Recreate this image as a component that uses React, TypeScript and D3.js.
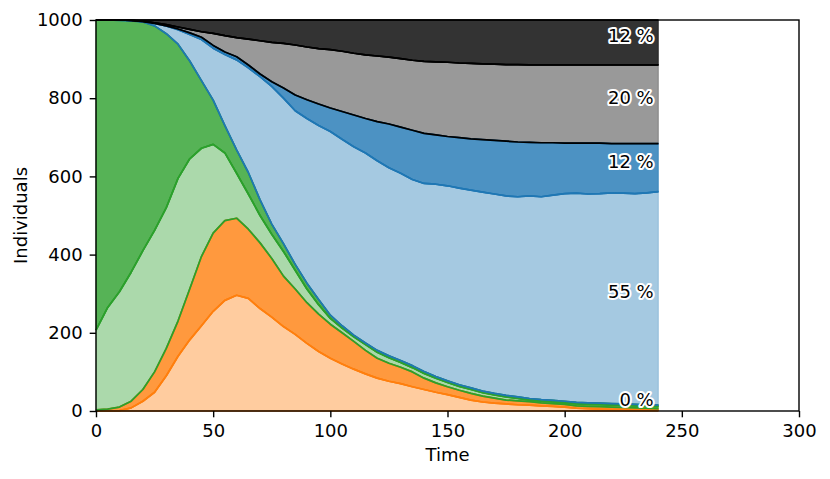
import React, { useRef, useEffect } from "react";
import * as d3 from "d3";

// sample times
const times = [
  0, 5, 10, 15, 20, 25, 30, 35, 40, 45, 50, 55, 60, 65, 70, 75, 80, 85, 90, 95,
  100, 105, 110, 115, 120, 125, 130, 135, 140, 145, 150, 155, 160, 165, 170,
  175, 180, 185, 190, 195, 200, 205, 210, 215, 220, 225, 230, 235, 240,
];

// compartments, bottom to top of the stack
const lightOrange = [
  0, 0, 1, 8, 25, 48, 90, 140, 182, 218, 255, 283, 296, 288, 262, 240, 216,
  196, 173, 152, 135, 120, 107, 95, 84, 76, 70, 62, 55, 48, 42, 35, 28, 23, 20,
  18, 16, 15, 13, 12, 10, 7, 6, 5, 4, 4, 3, 3, 2,
];
const orange = [
  3, 5, 9, 17, 30, 52, 70, 90, 130, 177, 200, 204, 197, 177, 168, 150, 129,
  116, 104, 96, 87, 80, 71, 60, 51, 46, 42, 38, 29, 24, 20, 18, 17, 15, 13, 10,
  10, 9, 8, 7, 7, 6, 6, 6, 6, 5, 5, 4, 4,
];
const lightGreen = [
  204, 260, 295, 330, 355, 362, 360, 365, 333, 277, 227, 173, 115, 90, 70, 62,
  63, 48, 35, 24, 15, 12, 12, 15, 15, 14, 12, 11, 12, 12, 11, 10, 10, 9, 8, 8,
  6, 4, 4, 4, 4, 5, 5, 5, 5, 5, 5, 5, 5,
];
const green = [
  793, 735, 694, 643, 585, 523, 445, 343, 250, 173, 113, 70, 60, 55, 40, 26,
  20, 15, 15, 13, 8, 6, 4, 4, 5, 5, 5, 5, 5, 4, 4, 4, 4, 4, 4, 4, 4, 4, 4, 4, 4,
  4, 4, 4, 4, 4, 4, 4, 4,
];
const lightBlue = [
  0, 0, 1, 1, 1, 6, 20, 37, 68, 105, 133, 182, 230, 268, 315, 352, 372, 393,
  421, 445, 470, 477, 482, 486, 485, 481, 479, 476, 481, 492, 499, 503, 506,
  509, 510, 510, 512, 518, 519, 525, 531, 535, 534, 536, 539, 539, 539, 542,
  546,
];
const blue = [
  0, 0, 0, 0, 0, 0, 0, 2, 4, 6, 7, 6, 8, 7, 7, 12, 26, 40, 48, 55, 60, 71, 81,
  88, 100, 112, 118, 126, 128, 126, 126, 129, 131, 134, 137, 140, 140, 137, 138,
  134, 129, 128, 130, 129, 126, 127, 128, 126, 123,
];
const gray = [
  0, 0, 0, 0, 1, 2, 3, 5, 9, 14, 31, 42, 49, 66, 85, 101, 114, 128, 135, 142,
  149, 154, 158, 163, 168, 171, 175, 179, 184, 187, 190, 191, 193, 194, 195,
  196, 198, 198, 199, 199, 200, 200, 200, 200, 201, 201, 201, 201, 201,
];
const dark = [
  0, 0, 0, 1, 3, 7, 12, 18, 24, 30, 34, 40, 45, 49, 53, 57, 60, 64, 69, 73, 76,
  80, 85, 89, 92, 95, 99, 103, 106, 107, 108, 110, 111, 112, 113, 114, 114, 115,
  115, 115, 115, 115, 115, 115, 115, 115, 115, 115, 115,
];

const seriesKeys = [
  "lightOrange",
  "orange",
  "lightGreen",
  "green",
  "lightBlue",
  "blue",
  "gray",
  "dark",
];
const seriesValues = [lightOrange, orange, lightGreen, green, lightBlue, blue, gray, dark];
const baseColors = ["#ff7f0e", "#ff7f0e", "#2ca02c", "#2ca02c", "#1f77b4", "#1f77b4", "#000000", "#000000"];
const alphas = [0.4, 0.8, 0.4, 0.8, 0.4, 0.8, 0.4, 0.8];
// layers that get a share label at the end
const labelledKeys = ["green", "lightBlue", "blue", "gray", "dark"];

const xTicks = [0, 50, 100, 150, 200, 250, 300];
const yTicks = [0, 200, 400, 600, 800, 1000];

const FONT = "DejaVu Sans, sans-serif";

function drawChart(el: SVGSVGElement) {
  const width = 830;
  const height = 479;
  const margin = { top: 20, right: 31, bottom: 68, left: 96 };

  const svg = d3.select(el);
  svg.selectAll("*").remove();
  svg.attr("width", width).attr("height", height);

  const x = d3
    .scaleLinear()
    .domain([0, 300])
    .range([margin.left, width - margin.right]);
  const y = d3
    .scaleLinear()
    .domain([0, 1000])
    .range([height - margin.bottom, margin.top]);

  const rows = times.map((t, i) => {
    const r: any = { t };
    seriesKeys.forEach((k, j) => (r[k] = seriesValues[j][i]));
    return r;
  });

  const stacked = d3.stack<any>().keys(seriesKeys)(rows);

  const area = d3
    .area<any>()
    .x((d) => x(d.data.t))
    .y0((d) => y(d[0]))
    .y1((d) => y(d[1]));
  const lower = d3
    .line<any>()
    .x((d) => x(d.data.t))
    .y((d) => y(d[0]));
  const upper = d3
    .line<any>()
    .x((d) => x(d.data.t))
    .y((d) => y(d[1]));

  const plot = svg.append("g");
  stacked.forEach((s, k) => {
    plot
      .append("path")
      .attr("d", area(s))
      .attr("fill", baseColors[k])
      .attr("fill-opacity", alphas[k])
      .attr("stroke", baseColors[k])
      .attr("stroke-opacity", alphas[k] * 0.6)
      .attr("stroke-width", 1.2);
    [lower, upper].forEach((gen) => {
      plot
        .append("path")
        .attr("d", gen(s))
        .attr("fill", "none")
        .attr("stroke", baseColors[k])
        .attr("stroke-width", 1.7)
        .attr("stroke-linejoin", "round");
    });
  });

  // share labels at the end of the run
  const last = rows.length - 1;
  const total = d3.sum(seriesKeys, (k) => rows[last][k]);
  const tEnd = times[last];
  stacked.forEach((s) => {
    if (!labelledKeys.includes(s.key)) return;
    const d = s[last];
    const pct = Math.round((100 * (d[1] - d[0])) / total);
    svg
      .append("text")
      .attr("x", x(tEnd - 2))
      .attr("y", y((d[0] + d[1]) / 2))
      .attr("text-anchor", "end")
      .attr("font-family", FONT)
      .attr("font-size", 18)
      .attr("fill", "black")
      .attr("stroke", "white")
      .attr("stroke-width", 4)
      .attr("stroke-linejoin", "round")
      .attr("paint-order", "stroke")
      .text(`${pct} %`);
  });

  // axes
  const xAxis = svg
    .append("g")
    .attr("transform", `translate(0, ${height - margin.bottom})`)
    .call(
      d3
        .axisBottom(x)
        .tickValues(xTicks)
        .tickFormat(d3.format("d"))
        .tickSize(6.3)
        .tickPadding(7)
    );
  const yAxis = svg
    .append("g")
    .attr("transform", `translate(${margin.left}, 0)`)
    .call(
      d3
        .axisLeft(y)
        .tickValues(yTicks)
        .tickFormat(d3.format("d"))
        .tickSize(6.3)
        .tickPadding(7)
    );
  [xAxis, yAxis].forEach((g) => {
    g.select(".domain").remove();
    g.selectAll("line").attr("stroke", "black").attr("stroke-width", 1.4);
    g.selectAll("text")
      .attr("font-family", FONT)
      .attr("font-size", 18)
      .attr("fill", "black");
  });

  svg
    .append("rect")
    .attr("x", margin.left)
    .attr("y", margin.top)
    .attr("width", width - margin.left - margin.right)
    .attr("height", height - margin.top - margin.bottom)
    .attr("fill", "none")
    .attr("stroke", "black")
    .attr("stroke-width", 1.4);

  svg
    .append("text")
    .attr("x", (margin.left + width - margin.right) / 2)
    .attr("y", 461)
    .attr("text-anchor", "middle")
    .attr("font-family", FONT)
    .attr("font-size", 18)
    .text("Time");
  svg
    .append("text")
    .attr(
      "transform",
      `translate(27, ${(margin.top + height - margin.bottom) / 2}) rotate(-90)`
    )
    .attr("text-anchor", "middle")
    .attr("font-family", FONT)
    .attr("font-size", 18)
    .text("Individuals");
}

export default function App() {
  const ref = useRef<SVGSVGElement>(null);
  useEffect(() => {
    if (ref.current == null) return;
    drawChart(ref.current);
  }, []);
  return (
    <svg
      ref={ref}
      style={{ position: "absolute", left: 0, top: 0, background: "white" }}
    />
  );
}
